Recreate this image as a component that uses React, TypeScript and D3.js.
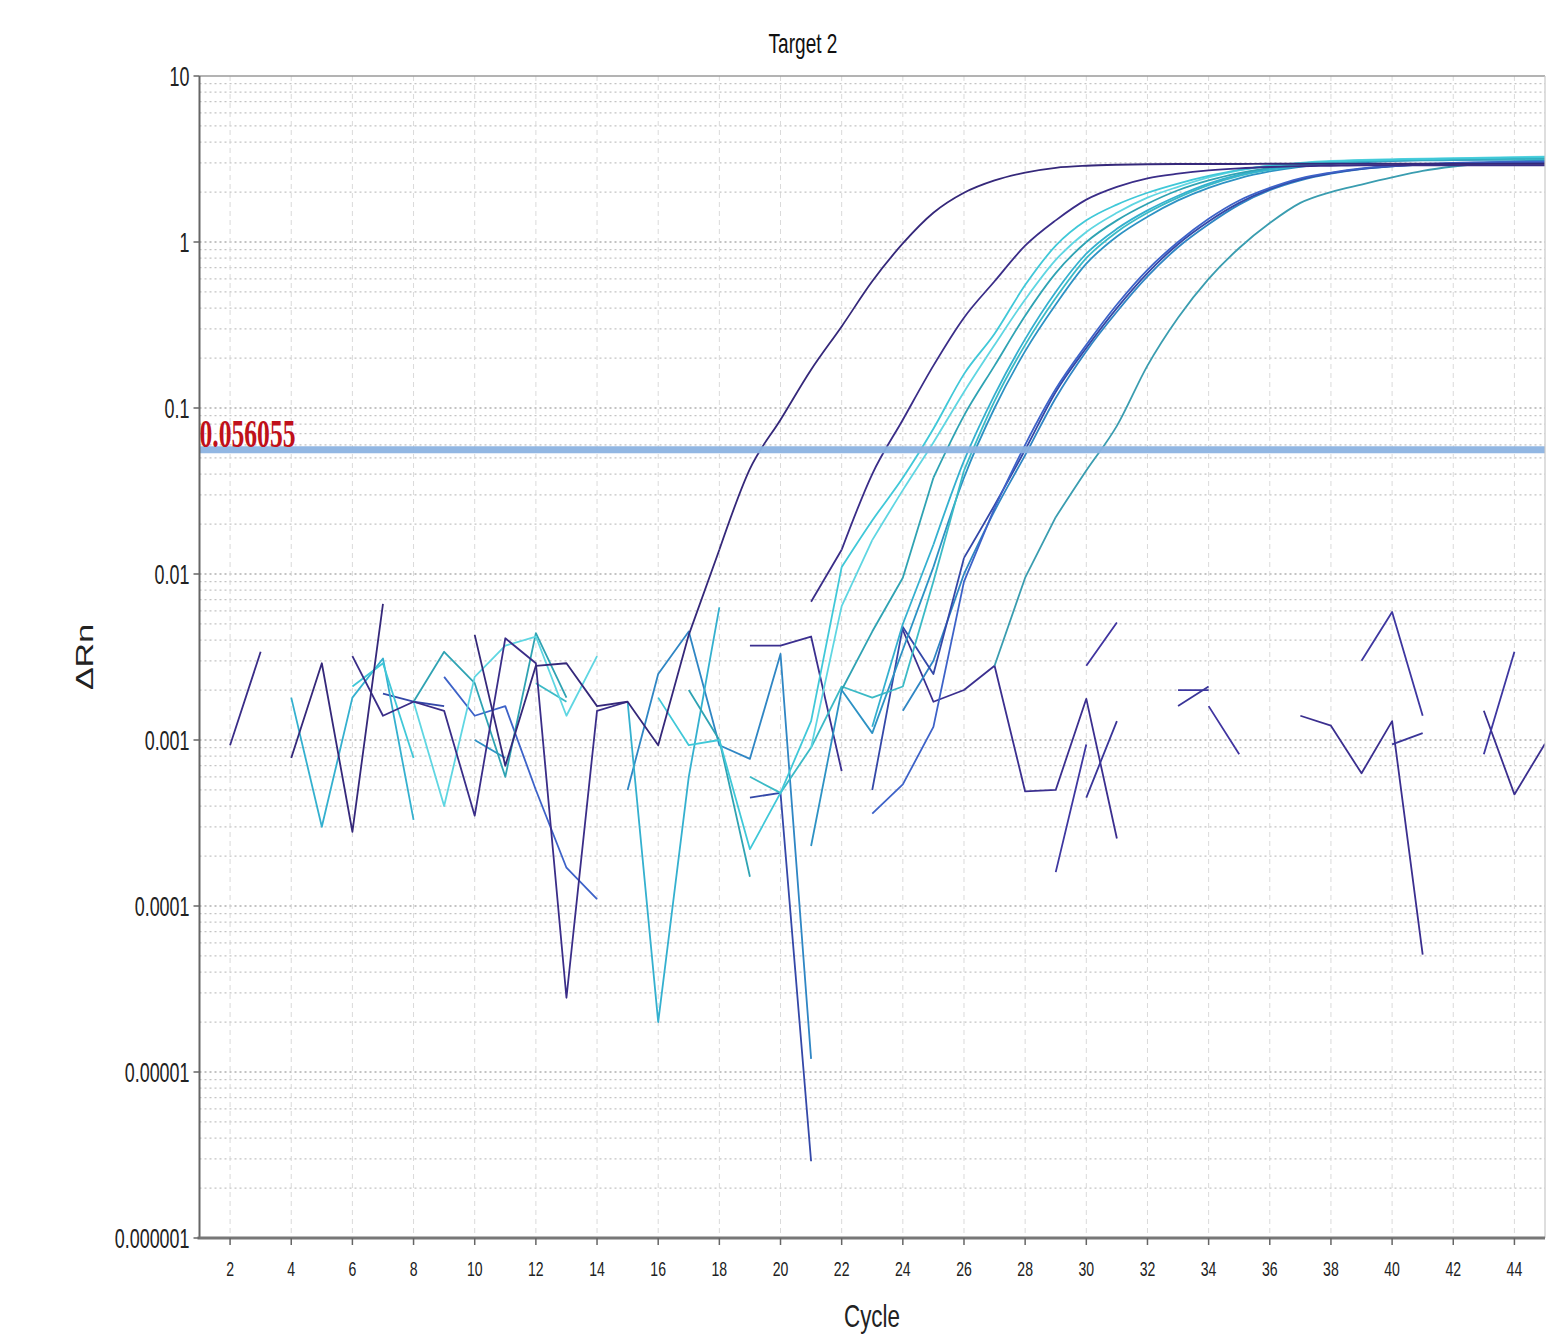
import React from "react";
import * as d3 from "d3";

const n = null;

// cycles 1..45
const cycles: number[] = [1,2,3,4,5,6,7,8,9,10,11,12,13,14,15,16,17,18,19,20,21,22,23,24,25,26,27,28,29,30,31,32,33,34,35,36,37,38,39,40,41,42,43,44,45];

const wellA = [n,n,n,0.00078,0.0029,0.00028,0.0066,n,n,0.0043,0.0007,0.0028,0.0029,0.0016,0.0017,0.00093,0.0043,0.014,0.043,0.085,0.17,0.31,0.58,0.98,1.5,1.98,2.35,2.62,2.8,2.88,2.92,2.94,2.95,2.95,2.95,2.96,2.96,2.96,2.96,2.96,2.96,2.96,2.96,2.96,2.96];
const wellB = [n,0.00093,0.0034,n,n,0.0032,0.0014,0.0017,0.0015,0.00035,0.0041,0.0029,0.000028,0.0015,0.0017,n,n,n,n,n,0.0068,0.014,0.04,0.085,0.18,0.35,0.58,0.95,1.35,1.8,2.15,2.42,2.58,2.7,2.78,2.83,2.86,2.88,2.9,2.9,2.9,2.9,2.9,2.9,2.9];
const wellC = [n,n,n,n,n,0.0021,0.0029,0.00078,n,n,n,n,n,n,n,0.0018,0.00093,0.001,0.00022,0.00048,0.0013,0.011,0.021,0.038,0.075,0.16,0.28,0.55,0.95,1.35,1.68,1.98,2.25,2.5,2.72,2.88,2.98,3.05,3.1,3.13,3.16,3.18,3.2,3.22,3.24];
const wellD = [n,n,n,n,n,n,n,0.0017,0.0004,0.0024,0.0037,0.0042,0.0014,0.0032,n,n,n,n,n,n,0.0009,0.0064,0.016,0.032,0.062,0.125,0.24,0.45,0.78,1.15,1.5,1.85,2.15,2.45,2.7,2.88,3.0,3.08,3.12,3.15,3.18,3.2,3.22,3.25,3.27];
const wellE = [n,n,n,n,n,n,n,0.0017,0.0034,0.0022,0.0006,0.0044,0.0018,n,n,n,0.002,0.001,0.00015,n,n,0.002,0.0045,0.0095,0.038,0.09,0.18,0.36,0.65,1.0,1.35,1.7,2.05,2.35,2.6,2.8,2.95,3.05,3.1,3.12,3.15,3.16,3.18,3.2,3.2];
const wellF = [n,n,n,0.0018,0.0003,0.0018,0.0031,0.00033,n,n,n,n,n,n,0.0017,0.00002,0.0006,0.0063,n,n,n,n,0.0012,0.005,0.015,0.048,0.12,0.26,0.5,0.85,1.2,1.55,1.9,2.25,2.55,2.75,2.9,3.0,3.08,3.12,3.15,3.17,3.18,3.2,3.2];
const wellG = [n,n,n,n,n,n,n,n,n,n,n,0.0022,0.0017,n,n,n,n,n,0.0006,0.00048,0.0009,0.0021,0.0018,0.0021,0.009,0.042,0.11,0.24,0.46,0.8,1.15,1.5,1.85,2.2,2.5,2.72,2.88,2.98,3.05,3.1,3.12,3.14,3.15,3.16,3.17];
const wellG2 = [n,n,n,n,n,n,n,n,n,0.001,0.00078,n,n,n,n,n,n,n,n,n,0.00023,0.002,0.0011,0.0035,0.011,0.038,0.1,0.22,0.42,0.74,1.08,1.42,1.78,2.12,2.42,2.66,2.84,2.95,3.02,3.07,3.1,3.11,3.12,3.13,3.14];
const wellH = [n,n,n,n,n,n,n,n,0.0024,0.0014,0.0016,0.0005,0.00017,0.00011,n,n,n,n,n,n,n,n,0.00036,0.00054,0.0012,0.009,0.025,0.06,0.13,0.24,0.42,0.68,1.0,1.38,1.78,2.12,2.42,2.62,2.78,2.88,2.95,3.0,3.02,3.04,3.05];
const wellI = [n,n,n,n,n,n,0.0019,0.0017,0.0016,n,n,n,n,n,n,n,n,n,0.00045,0.00048,0.0000029,n,0.0005,0.0048,0.0025,0.0125,0.026,0.056,0.125,0.23,0.4,0.65,0.97,1.33,1.72,2.08,2.38,2.6,2.76,2.86,2.93,2.97,3.0,3.02,3.03];
const wellJ = [n,n,n,n,n,n,n,n,n,n,n,n,n,n,0.0005,0.0025,0.0045,0.00093,0.00077,0.0033,0.000012,n,n,0.0015,0.003,0.01,0.024,0.052,0.115,0.22,0.38,0.62,0.93,1.28,1.68,2.05,2.35,2.58,2.75,2.86,2.93,2.98,3.02,3.05,3.08];
const wellK = [n,n,n,n,n,n,n,n,n,n,n,n,n,n,n,n,n,n,n,n,n,n,n,n,n,n,0.0028,0.0095,0.022,0.042,0.078,0.18,0.35,0.6,0.92,1.3,1.72,2.0,2.22,2.45,2.68,2.85,2.97,3.05,3.1];
const ntc1 = [n,n,n,n,n,n,n,n,n,n,n,n,n,n,n,n,n,n,0.0037,0.0037,0.0042,0.00065,n,0.0046,0.0017,0.002,0.0028,0.00049,0.0005,0.00177,0.000255,n,n,n,n,n,0.0014,0.00122,0.00063,0.0013,0.0000509,n,0.0015,0.00047,0.00095];
const ntc2 = [n,n,n,n,n,n,n,n,n,n,n,n,n,n,n,n,n,n,n,n,n,n,n,n,n,n,n,n,0.00016,0.00094,n,n,0.002,0.002,n,n,n,n,0.003,0.0059,0.0014,n,0.00082,0.0034,n];
const ntc3 = [n,n,n,n,n,n,n,n,n,n,n,n,n,n,n,n,n,n,n,n,n,n,n,n,n,n,n,n,n,0.0028,0.0051,n,n,0.0016,0.00082,n,n,n,n,n,n,n,n,n,n];
const ntc4 = [n,n,n,n,n,n,n,n,n,n,n,n,n,n,n,n,n,n,n,n,n,n,n,n,n,n,n,n,n,0.00045,0.0013,n,0.0016,0.0021,n,n,n,n,n,0.00094,0.0011,n,n,n,n];

const seriesValues = [ntc1, ntc2, ntc3, ntc4, wellK, wellJ, wellI, wellH, wellG2, wellG, wellF, wellE, wellD, wellC, wellB, wellA];
const seriesColors = ["#3b2f8f", "#3e37a0", "#4034a0", "#3a3598", "#3a9db0", "#2f86c4", "#3448a8", "#3d62c8", "#2d92c4", "#3bbac6", "#34b0cf", "#2fa3b3", "#5fd6e2", "#40c8d8", "#3a2d88", "#35287a"];

const xTicks = [2,4,6,8,10,12,14,16,18,20,22,24,26,28,30,32,34,36,38,40,42,44];
const yTicks = [0.000001, 0.00001, 0.0001, 0.001, 0.01, 0.1, 1, 10];
const yTickLabels = ["0.000001", "0.00001", "0.0001", "0.001", "0.01", "0.1", "1", "10"];
const threshold = 0.056055;
const thresholdLabel = "0.056055";

const W = 1557, H = 1334;
const L = 199.5, R = 1545, T = 76, B = 1238;

type V = number | null;

// index where the smooth, above-baseline part of an amplification curve begins
function riseStart(vals: V[]): number {
  let s = vals.length - 1;
  while (s > 0) {
    const a = vals[s - 1];
    const b = vals[s];
    if (a === null || b === null || (a as number) > (b as number)) break;
    s--;
  }
  while (s < vals.length - 1 && vals[s] !== null && (vals[s] as number) < 0.01) s++;
  return s;
}

export default function App() {
  const x = d3.scaleLinear().domain([1, 45]).range([L, R]);
  const y = d3.scaleLog().domain([1e-6, 10]).range([B, T]);

  const minorGrid: number[] = [];
  for (let k = -6; k <= 0; k++) {
    for (let m = 1; m <= 9; m++) minorGrid.push(m * Math.pow(10, k));
  }

  const mk = (curve: d3.CurveFactory) =>
    d3
      .line<V>()
      .defined((d) => d !== null && (d as number) > 0)
      .x((_, i) => x(cycles[i]))
      .y((d) => y(d as number))
      .curve(curve);
  const linear = mk(d3.curveLinear);
  const smooth = mk(d3.curveMonotoneX);

  const sans = "'Liberation Sans', Arial, sans-serif";

  return (
    <svg width={W} height={H} style={{ position: "absolute", left: 0, top: 0, display: "block", background: "#fff" }}>
      <defs>
        <clipPath id="plot">
          <rect x={L} y={T} width={R - L} height={B - T} />
        </clipPath>
      </defs>
      {minorGrid.map((v, i) => (
        <line key={"h" + i} x1={L} x2={R} y1={y(v)} y2={y(v)} stroke={i % 9 === 0 ? "#b0b0b0" : "#c4c4c4"} strokeWidth={1.3} strokeDasharray="2,3" />
      ))}
      {xTicks.map((c) => (
        <line key={"v" + c} x1={x(c)} x2={x(c)} y1={T} y2={B} stroke="#dadada" strokeWidth={1} strokeDasharray="5,4" />
      ))}
      <g clipPath="url(#plot)" fill="none" strokeLinejoin="round">
        {seriesValues.map((vals, i) => {
          const v = vals as V[];
          const s = riseStart(v);
          const head = v.map((d, j) => (j <= s ? d : null));
          const tail = v.map((d, j) => (j >= s ? d : null));
          return (
            <g key={"s" + i} stroke={seriesColors[i]} strokeWidth={1.8}>
              <path d={linear(head) || ""} />
              <path d={smooth(tail) || ""} />
            </g>
          );
        })}
      </g>
      <line x1={L} x2={R} y1={y(threshold)} y2={y(threshold)} stroke="#8db4e2" strokeWidth={7} opacity={0.95} />
      <text transform={`translate(${L},${y(threshold) - 3}) scale(0.64,1)`} fill="#c0101a" fontFamily="'Liberation Serif', 'Times New Roman', serif" fontWeight="bold" fontSize={40}>
        {thresholdLabel}
      </text>
      <line x1={L} x2={R} y1={T} y2={T} stroke="#9a9a9a" strokeWidth={1.5} />
      <line x1={R} x2={R} y1={T} y2={B} stroke="#c8c8c8" strokeWidth={1.2} />
      <line x1={L} x2={L} y1={T} y2={B} stroke="#666" strokeWidth={2} />
      <line x1={L - 2} x2={R} y1={B} y2={B} stroke="#777" strokeWidth={3} />
      {yTicks.map((v, i) => (
        <g key={"yt" + i}>
          <line x1={L - 6} x2={L} y1={y(v)} y2={y(v)} stroke="#666" strokeWidth={1.5} />
          <text transform={`translate(${L - 10},${y(v) + 10}) scale(0.64,1)`} textAnchor="end" fontFamily={sans} fontSize={28} fill="#222">
            {yTickLabels[i]}
          </text>
        </g>
      ))}
      {xTicks.map((c) => (
        <g key={"xt" + c}>
          <line x1={x(c)} x2={x(c)} y1={B} y2={B + 7} stroke="#666" strokeWidth={1.5} />
          <text transform={`translate(${x(c)},${B + 38}) scale(0.67,1)`} textAnchor="middle" fontFamily={sans} fontSize={21} fill="#222">
            {c}
          </text>
        </g>
      ))}
      <text transform={`translate(803,53) scale(0.68,1)`} textAnchor="middle" fontFamily={sans} fontSize={28} fill="#111">
        Target 2
      </text>
      <text transform={`translate(872,1327) scale(0.7,1)`} textAnchor="middle" fontFamily={sans} fontSize={32} fill="#222">
        Cycle
      </text>
      <text transform={`translate(93,657) scale(0.7,1) rotate(-90)`} textAnchor="middle" fontFamily={sans} fontSize={34} fill="#222">
        ΔRn
      </text>
    </svg>
  );
}
